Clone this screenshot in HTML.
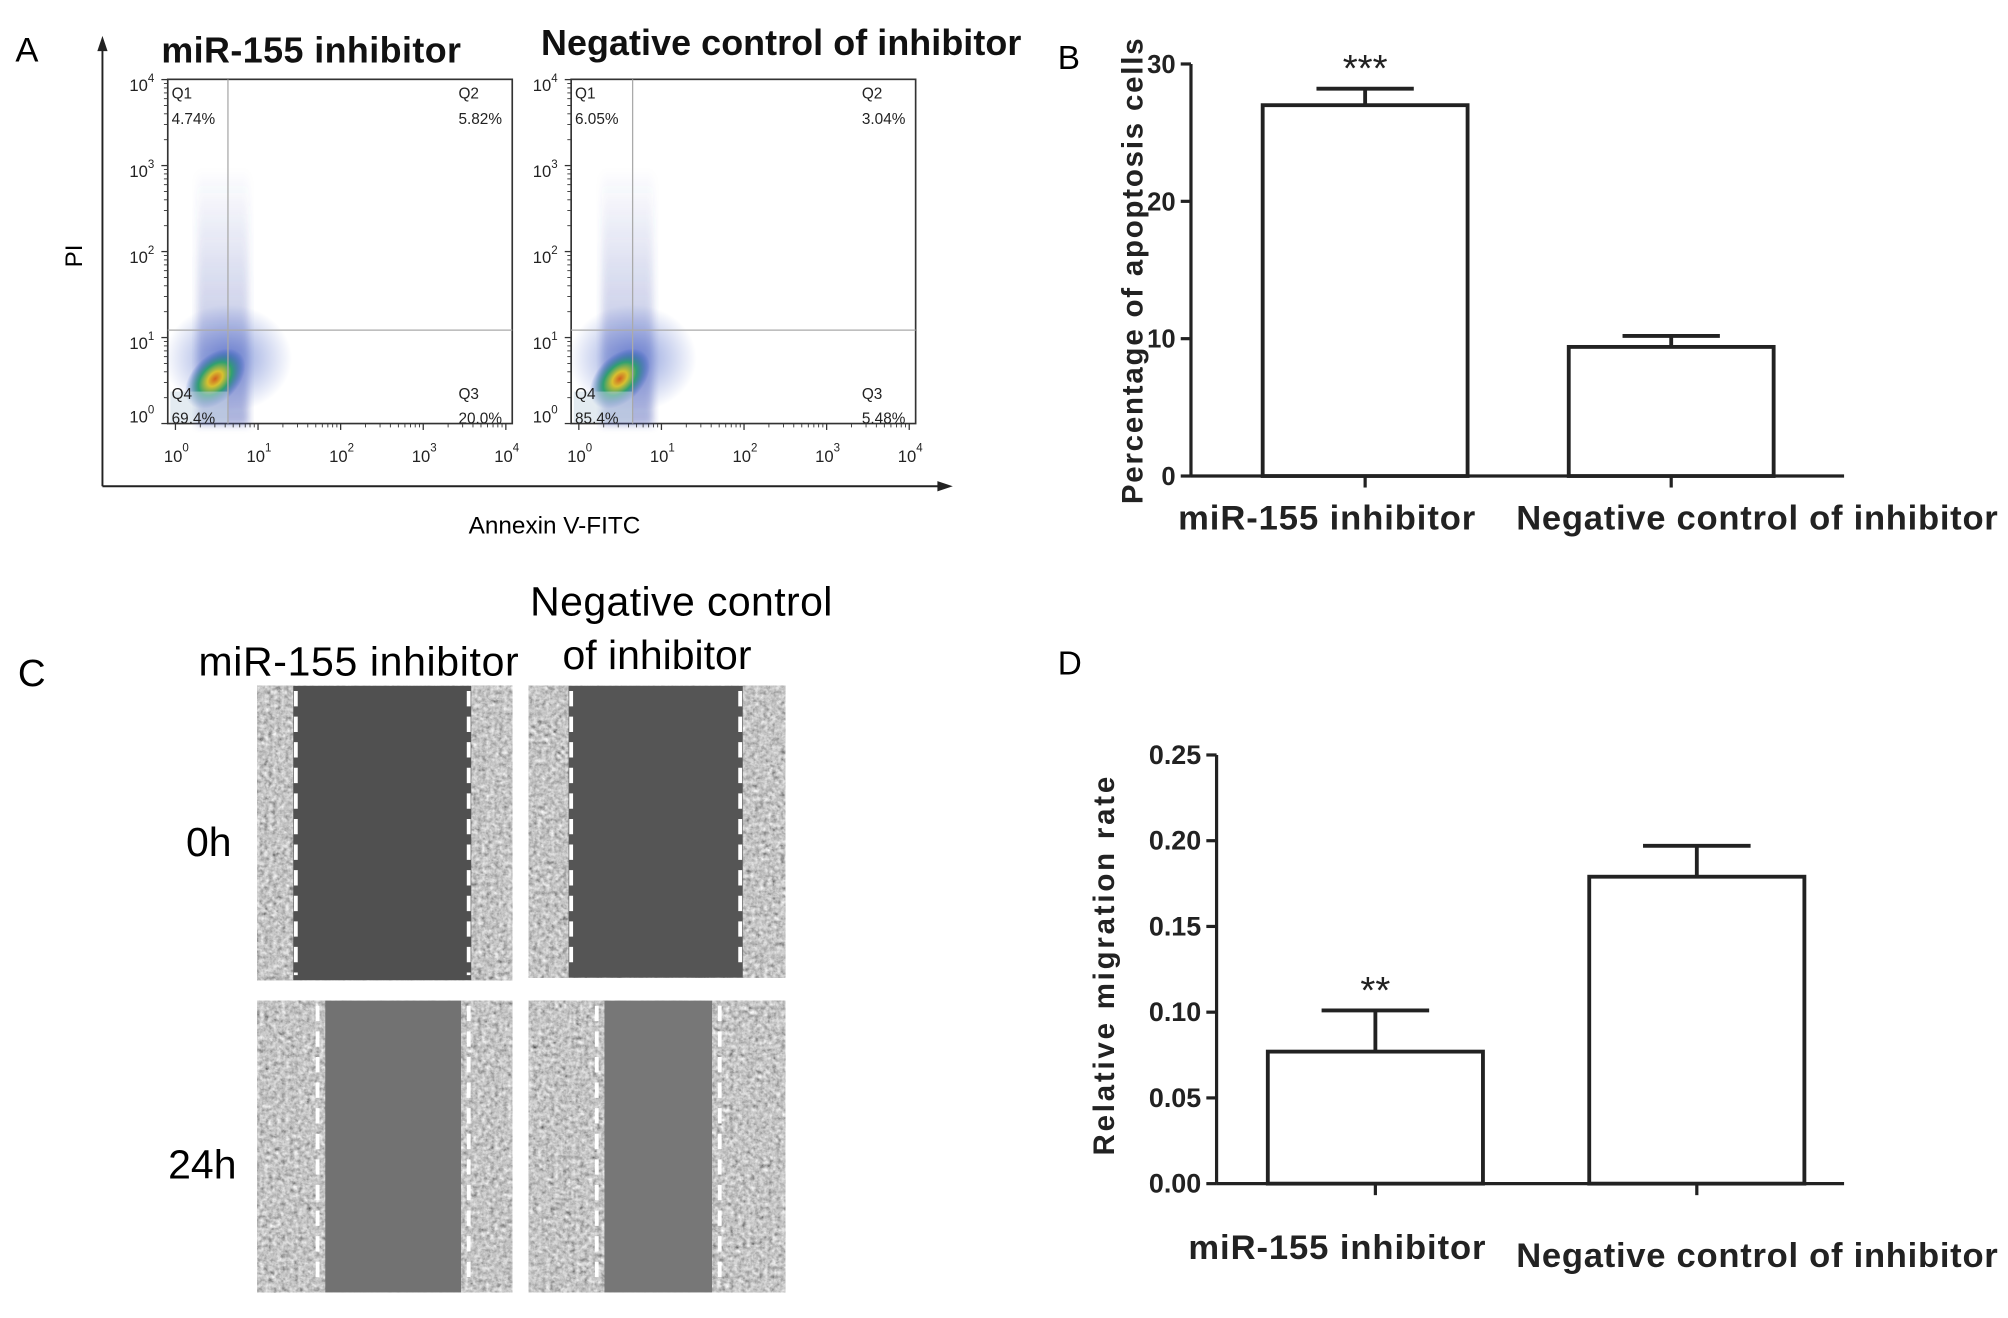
<!DOCTYPE html>
<html><head><meta charset="utf-8"><style>
html,body{margin:0;padding:0;background:#fff;}
svg{display:block;font-family:"Liberation Sans",Arial,sans-serif;}
</style></head><body>
<svg id="fig" width="2008" height="1318" viewBox="0 0 1568 1030" preserveAspectRatio="none">
<defs>
<filter id="tex" x="0" y="0" width="100%" height="100%">
<feTurbulence type="fractalNoise" baseFrequency="0.3" numOctaves="3" seed="3" result="n"/>
<feColorMatrix type="matrix" values="0.5 0.5 0.5 0 -0.2  0.5 0.5 0.5 0 -0.2  0.5 0.5 0.5 0 -0.2  0 0 0 0 1"/>
</filter>
<radialGradient id="core"><stop offset="0" stop-color="#d06020"/><stop offset="0.25" stop-color="#d8c030"/><stop offset="0.55" stop-color="#30a070"/><stop offset="1" stop-color="#2040c0" stop-opacity="0"/></radialGradient>
<radialGradient id="halo"><stop offset="0" stop-color="#3050c0" stop-opacity="0.6"/><stop offset="1" stop-color="#3050c0" stop-opacity="0"/></radialGradient>
<linearGradient id="streak" x1="0" y1="1" x2="0" y2="0"><stop offset="0" stop-color="#4050b0" stop-opacity="0.45"/><stop offset="1" stop-color="#4050b0" stop-opacity="0"/></linearGradient>
<filter id="blur"><feGaussianBlur stdDeviation="3"/></filter>
</defs>
<rect width="1568" height="1030" fill="#fff"/>

<!-- Panel A -->
<g>
<text x="12" y="48" font-size="27">A</text>
<line x1="80" y1="380" x2="80" y2="36" stroke="#222" stroke-width="1.5"/>
<polygon points="80,28 76,40 84,40" fill="#222"/>
<line x1="80" y1="380" x2="734" y2="380" stroke="#222" stroke-width="1.5"/>
<polygon points="744,380 732,376 732,384" fill="#222"/>
<text transform="translate(64,200) rotate(-90)" font-size="19" text-anchor="middle">PI</text>
<text x="433" y="417" font-size="19" text-anchor="middle">Annexin V-FITC</text>
<text x="243" y="49" font-size="28" text-anchor="middle" font-weight="bold" fill="#111" textLength="234">miR-155 inhibitor</text>
<text x="610" y="43" font-size="28" text-anchor="middle" font-weight="bold" fill="#111" textLength="375">Negative control of inhibitor</text>
<g id="flowL"></g>
<g id="flowR"></g>
</g>

<!-- Panel B -->
<g id="panelB">
<text x="826" y="54" font-size="26">B</text>
<text transform="translate(892,212) rotate(-90)" font-size="23" font-weight="bold" text-anchor="middle" fill="#222" textLength="364">Percentage of apoptosis cells</text>
</g>

<!-- Panel C -->
<g>
<text x="14" y="536" font-size="30">C</text>
<text x="280" y="528" font-size="32" text-anchor="middle" textLength="250">miR-155 inhibitor</text>
<text x="532" y="481" font-size="32" text-anchor="middle" textLength="236">Negative control</text>
<text x="513" y="523" font-size="32" text-anchor="middle">of inhibitor</text>
<text x="163" y="669" font-size="32" text-anchor="middle">0h</text>
<text x="158" y="921" font-size="32" text-anchor="middle">24h</text>
<g id="wounds"></g>
</g>

<!-- Panel D -->
<g id="panelD">
<text x="826" y="527" font-size="26">D</text>
<text transform="translate(870,755) rotate(-90)" font-size="23" font-weight="bold" text-anchor="middle" fill="#222" textLength="296">Relative migration rate</text>
</g>
</svg>
<script>
const NS="http://www.w3.org/2000/svg";
function mk(tag,attrs,parent){const e=document.createElementNS(NS,tag);for(const k in attrs)e.setAttribute(k,attrs[k]);parent.appendChild(e);return e;}

/* Panel B data */
const bCategories=["miR-155 inhibitor","Negative control of inhibitor"];
const bValues=[27.0,9.4];
const bErrors=[1.2,0.8];
const bTicks=[0,10,20,30];
const bSig=["***",""];

/* Panel D data */
const dCategories=["miR-155 inhibitor","Negative control of inhibitor"];
const dValues=[0.077,0.179];
const dErrors=[0.024,0.018];
const dTicks=["0.00","0.05","0.10","0.15","0.20","0.25"];
const dSig=["**",""];

/* Flow quadrant stats */
const flowQ1=["4.74%","6.05%"];
const flowQ2=["5.82%","3.04%"];
const flowQ3=["20.0%","5.48%"];
const flowQ4=["69.4%","85.4%"];

function barChart(g,cfg){
  const y=v=>cfg.y0-(v-cfg.min)/(cfg.max-cfg.min)*(cfg.y0-cfg.y1);
  let ax=mk('line',{x1:cfg.ax,y1:cfg.y1,x2:cfg.ax,y2:cfg.y0,stroke:'#222','stroke-width':2.5},g);
  
  
  let xa=mk('line',{x1:cfg.ax,y1:cfg.y0,x2:cfg.xEnd,y2:cfg.y0,stroke:'#222','stroke-width':2.5},g);
  
  
  cfg.ticks.forEach(t=>{const v=parseFloat(t);const yy=y(v);
    mk('line',{x1:cfg.ax-8,y1:yy,x2:cfg.ax,y2:yy,stroke:'#222','stroke-width':2.5},g);
    const tx=mk('text',{x:cfg.ax-12,y:yy+7,'font-size':cfg.tickFs,'font-weight':'bold','text-anchor':'end',fill:'#222'},g);
    tx.textContent=t;
    
    
  });
  cfg.values.forEach((v,i)=>{
    const cx=cfg.centers[i],w=cfg.barW;
    const top=y(v),et=y(v+cfg.errors[i]);
    const r=mk('rect',{x:cx-w/2,y:top,width:w,height:cfg.y0-top,fill:'#fff',stroke:'#222','stroke-width':3},g);
    
    
    mk('line',{x1:cx,y1:top,x2:cx,y2:et,stroke:'#222','stroke-width':3},g);
    const c=mk('line',{x1:cx-cfg.capW/2,y1:et,x2:cx+cfg.capW/2,y2:et,stroke:'#222','stroke-width':3},g);
    
    
    mk('line',{x1:cx,y1:cfg.y0,x2:cx,y2:cfg.y0+9,stroke:'#222','stroke-width':2.5},g);
    const lb=mk('text',{x:cfg.labelX[i],y:cfg.labelY[i],'font-size':27,'font-weight':'bold','text-anchor':'middle',fill:'#222',textLength:cfg.labelW[i]},g);
    lb.textContent=cfg.cats[i];
    
    
    if(cfg.sig[i]){const s=mk('text',{x:cx,y:et-6,'font-size':30,'text-anchor':'middle',fill:'#222'},g);
      s.textContent=cfg.sig[i];
      
      }
  });
}
barChart(document.getElementById('panelB'),{min:0,max:30,y0:372,y1:50,ax:930,xEnd:1440,tickFs:20,ticks:bTicks.map(String),values:bValues,errors:bErrors,centers:[1066,1305],barW:160,capW:76,cats:bCategories,labelX:[1036,1372],labelY:[414,414],labelW:[232,376],sig:bSig});
barChart(document.getElementById('panelD'),{min:0,max:0.25,y0:925,y1:590,ax:950,xEnd:1440,tickFs:21,ticks:dTicks,values:dValues,errors:dErrors,centers:[1074,1325],barW:168,capW:84,cats:dCategories,labelX:[1044,1372],labelY:[984,990],labelW:[232,376],sig:dSig});

/* Flow plots */
function flow(g,x0,idx,vx){
  const y0=62,w=269,h=269,xb=x0+w,yb=y0+h;
  const b=mk('rect',{x:x0,y:y0,width:w,height:h,fill:'#fff',stroke:'#333','stroke-width':1.3},g);
  
  
  mk('rect',{x:vx-24,y:y0+70,width:40,height:200,fill:'url(#streak)',filter:'url(#blur)'},g);
  mk('ellipse',{cx:vx,cy:280,rx:50,ry:42,fill:'url(#halo)'},g);
  mk('ellipse',{cx:vx-10,cy:296,rx:28,ry:18,fill:'url(#core)',transform:`rotate(-45 ${vx-10} 296)`},g);
  mk('rect',{x:x0+2,y:306,width:vx-x0-2,height:24,fill:'#c8d8e4',opacity:0.5},g);
  mk('line',{x1:vx,y1:y0,x2:vx,y2:yb,stroke:'#aaa','stroke-width':1},g);
  mk('line',{x1:x0,y1:258,x2:xb,y2:258,stroke:'#aaa','stroke-width':1},g);
  const labs=[["Q1",x0+3,77],[flowQ1[idx],x0+3,97],["Q2",xb-42,77],[flowQ2[idx],xb-42,97],["Q4",x0+3,312],[flowQ4[idx],x0+3,331],["Q3",xb-42,312],[flowQ3[idx],xb-42,331]];
  labs.forEach(l=>{const t=mk('text',{x:l[1],y:l[2],'font-size':12,fill:'#222'},g);t.textContent=l[0];
    
    });
  for(let d=0;d<=4;d++){const yy=yb-d*67.2;
    mk('line',{x1:x0-5,y1:yy,x2:x0,y2:yy,stroke:'#333'},g);
    const t=mk('text',{x:x0-30,y:yy+(d==0?-1:9),'font-size':13,fill:'#222'},g);
    t.innerHTML='10<tspan dy="-7" font-size="9">'+d+'</tspan>';
    
    
    if(d<4)for(let m=2;m<10;m++){const ym=yy-Math.log10(m)*67.2;mk('line',{x1:x0-3,y1:ym,x2:x0,y2:ym,stroke:'#333','stroke-width':0.7},g);}
  }
  for(let d=0;d<=4;d++){const xx=x0+6+d*64.5;
    mk('line',{x1:xx,y1:yb,x2:xx,y2:yb+5,stroke:'#333'},g);
    const t=mk('text',{x:xx-9,y:yb+30,'font-size':13,fill:'#222'},g);
    t.innerHTML='10<tspan dy="-8" font-size="9">'+d+'</tspan>';
    
    
    if(d<4)for(let m=2;m<10;m++){const xm=xx+Math.log10(m)*64.5;mk('line',{x1:xm,y1:yb,x2:xm,y2:yb+3,stroke:'#333','stroke-width':0.7},g);}
  }
}
flow(document.getElementById('flowL'),131,0,178);
flow(document.getElementById('flowR'),446,1,494);

/* Wound images */
const wg=document.getElementById('wounds');
const panels=[[201,536,199,230,231,366,'#505050'],[413,536,200,228,446,578,'#555'],[201,782,199,228,248,366,'#727272'],[413,782,200,228,466,562,'#777']];
panels.forEach((p,i)=>{
  const [x,y,w,h,l,r,gc]=p;
  const g=mk('g',{},wg);
  
  
  mk('rect',{x:x,y:y,width:w,height:h,fill:'#888',filter:'url(#tex)'},g);
  mk('rect',{x:l+(i<2?-2:6),y:y,width:r-l+(i<2?4:-12),height:h,fill:gc},g);
  [l,r].forEach(lx=>mk('line',{x1:lx,y1:y+4,x2:lx,y2:y+h-4,stroke:'#fff','stroke-width':3,'stroke-dasharray':'12 8'},g));
});
</script>
</body></html>
